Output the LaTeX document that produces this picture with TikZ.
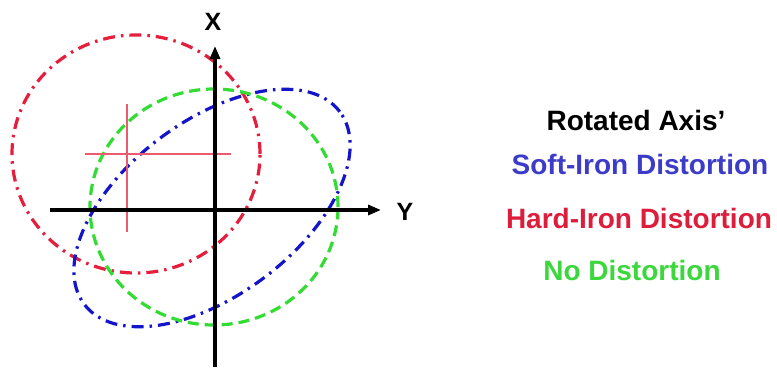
\documentclass[tikz,border=0pt]{standalone}
\usepackage{fontspec}
\setmainfont{Liberation Sans}
\usetikzlibrary{arrows.meta}
\definecolor{lnred}{RGB}{228,30,60}
\definecolor{lnblue}{RGB}{20,20,200}
\definecolor{lngreen}{RGB}{50,220,50}
\definecolor{txblue}{RGB}{60,60,200}
\definecolor{txred}{RGB}{220,30,60}
\definecolor{txgreen}{RGB}{60,215,60}
\definecolor{crossred}{RGB}{235,90,110}
\tikzset{
  axisline/.style={line width=3.2pt,-{Triangle[length=13pt,width=10pt]}},
  dashdotline/.style={line width=3.2pt,dash pattern=on 12pt off 6pt on 2.5pt off 6pt},
  dashline/.style={line width=3.2pt,dash pattern=on 11pt off 6pt},
  legend/.style={font=\bfseries\fontsize{28}{30}\selectfont,anchor=center,inner sep=0pt},
  axlabel/.style={font=\bfseries\fontsize{25}{28}\selectfont,anchor=center,inner sep=0pt},
  crossline/.style={line width=1.2pt,crossred}
}
\begin{document}
\begin{tikzpicture}[x=1pt,y=-1pt]
\useasboundingbox (0,0) rectangle (777,370);
% ellipses
\draw[dashdotline,lnred] (136,154) ellipse [x radius=124pt,y radius=119pt];
\draw[dashdotline,lnblue,rotate around={37:(212,208)}] (212,208) ellipse [x radius=160pt,y radius=87pt];
\draw[dashline,lngreen] (214,207) ellipse [x radius=124pt,y radius=118pt];
% crosshair (rotated axis')
\coordinate (cv1) at (127,104);
\coordinate (cv2) at (127,232);
\coordinate (ch1) at (85,154);
\coordinate (ch2) at (231,154);
\draw[crossline] (cv1) -- (cv2);
\draw[crossline] (ch1) -- (ch2);
% axes
\coordinate (yl) at (50,210);
\coordinate (yr) at (381,210);
\coordinate (xb) at (215,367);
\coordinate (xt) at (215,46);
\draw[axisline] (yl) -- (yr);
\draw[axisline] (xb) -- (xt);
\node[axlabel] (xlab) at (213,22) {X};
\node[axlabel] (ylab) at (405,212) {Y};
% legend
\node[legend] (l1) at (636,120) {Rotated Axis’};
\node[legend,txblue] (l2) at (640,164) {Soft-Iron Distortion};
\node[legend,txred] (l3) at (639,218) {Hard-Iron Distortion};
\node[legend,txgreen] (l4) at (632,270) {No Distortion};
\end{tikzpicture}
\end{document}
